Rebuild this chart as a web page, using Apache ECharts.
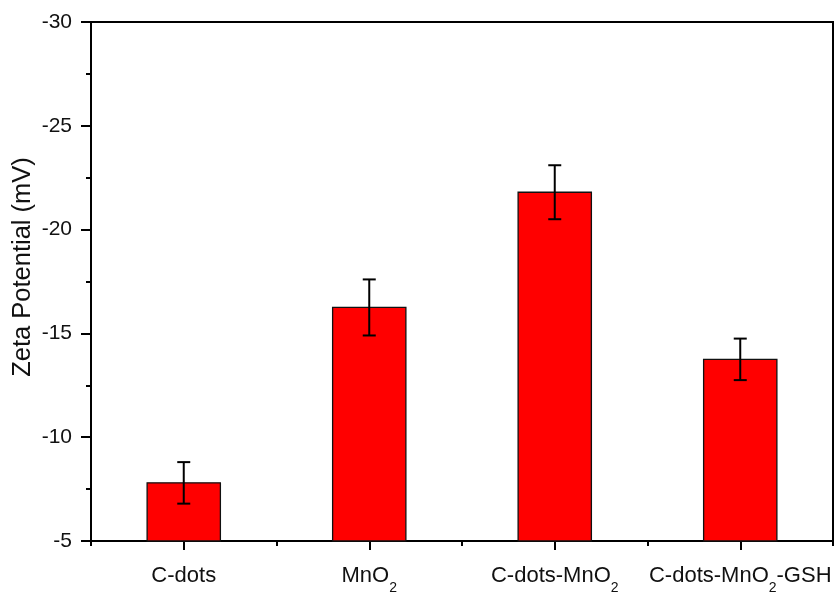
<!DOCTYPE html>
<html>
<head>
<meta charset="utf-8">
<script src="https://cdn.jsdelivr.net/npm/echarts@6/dist/echarts.min.js"></script>
<style>
  html, body { margin: 0; padding: 0; background: #fff; }
  #chart { width: 837px; height: 597px; }
</style>
</head>
<body>
<div id="chart"></div>
<script>
// Zeta potential of each sample (mV) with standard deviation
const categories = ['C-dots', 'MnO2', 'C-dots-MnO2', 'C-dots-MnO2-GSH'];
const zeta = [-7.8, -16.25, -21.8, -13.75];
const zetaErr = [1.0, 1.35, 1.3, 1.0];
const yTicks = [-30, -25, -20, -15, -10, -5];
const yTitle = 'Zeta Potential (mV)';

const FONT = '"Liberation Sans", Arial, sans-serif';
const AXIS_BASE = yTicks[yTicks.length - 1];
const LABEL_SIZE = 22;

const chart = echarts.init(document.getElementById('chart'));

// Category labels with subscript "2" in MnO2
function formatCategory(name) {
  return name.replace(/O2/g, 'O{sub|2}');
}

const barData = categories.map((c, i) => [i, zeta[i]]);
const errData = categories.map((c, i) => [i, zeta[i] - zetaErr[i], zeta[i] + zetaErr[i]]);

chart.setOption({
  animation: false,
  backgroundColor: '#fff',
  grid: {
    left: 91, right: 4, top: 22, bottom: 56,
    containLabel: false,
    outerBoundsMode: 'none',
    show: true, borderColor: '#000', borderWidth: 2,
    backgroundColor: 'transparent'
  },
  graphic: [
    {
      type: 'text',
      x: 23,
      y: 267,
      rotation: Math.PI / 2,
      style: {
        text: yTitle,
        fill: '#111',
        font: '25.5px ' + FONT,
        align: 'center',
        verticalAlign: 'middle'
      }
    }
  ],
  xAxis: [
    {
      type: 'category',
      position: 'bottom',
      data: categories,
      axisLine: { show: true, lineStyle: { color: '#000', width: 2 } },
      axisTick: { show: true, alignWithLabel: true, length: 9, lineStyle: { color: '#000', width: 2 } },
      axisLabel: {
        interval: 0,
        margin: 24,
        color: '#111',
        fontFamily: FONT,
        fontSize: LABEL_SIZE,
        lineHeight: LABEL_SIZE,
        formatter: formatCategory,
        rich: {
          sub: {
            fontSize: 14, fontFamily: FONT, color: '#111',
            lineHeight: LABEL_SIZE, padding: [24, 0, 0, 0]
          }
        }
      },
      splitLine: { show: false }
    },
    {
      // boundary ticks between categories
      type: 'category',
      position: 'bottom',
      data: categories,
      axisLine: { show: false },
      axisTick: { show: true, alignWithLabel: false, length: 5, lineStyle: { color: '#000', width: 2 } },
      axisLabel: { show: false },
      splitLine: { show: false }
    }
  ],
  yAxis: {
    type: 'value',
    inverse: true,
    min: yTicks[0],
    max: AXIS_BASE,
    interval: 5,
    axisLine: { show: true, lineStyle: { color: '#000', width: 2 } },
    axisTick: { show: true, length: 10, lineStyle: { color: '#000', width: 2 } },
    minorTick: { show: true, splitNumber: 2, length: 5, lineStyle: { color: '#000', width: 2 } },
    axisLabel: { margin: 19, color: '#111', fontFamily: FONT, fontSize: 21 },
    splitLine: { show: false }
  },
  series: [
    {
      type: 'custom',
      name: 'bars',
      xAxisIndex: 0,
      data: barData,
      encode: { x: 0, y: 1 },
      renderItem: function (params, api) {
        const idx = api.value(0);
        const top = api.coord([idx, api.value(1)]);
        const base = api.coord([idx, AXIS_BASE]);
        const w = api.size([1, 0])[0] * 0.395;
        return {
          type: 'rect',
          shape: { x: top[0] - w / 2, y: top[1], width: w, height: base[1] - top[1] },
          style: { fill: '#ff0000', stroke: '#111', lineWidth: 1.3 }
        };
      }
    },
    {
      type: 'custom',
      name: 'errors',
      xAxisIndex: 0,
      data: errData,
      encode: { x: 0, y: [1, 2] },
      z: 5,
      renderItem: function (params, api) {
        const idx = api.value(0);
        const lo = api.coord([idx, api.value(1)]);
        const hi = api.coord([idx, api.value(2)]);
        const cap = 6.5;
        const style = { stroke: '#000', lineWidth: 2 };
        return {
          type: 'group',
          children: [
            { type: 'line', shape: { x1: lo[0], y1: lo[1], x2: hi[0], y2: hi[1] }, style: style },
            { type: 'line', shape: { x1: lo[0] - cap, y1: lo[1], x2: lo[0] + cap, y2: lo[1] }, style: style },
            { type: 'line', shape: { x1: hi[0] - cap, y1: hi[1], x2: hi[0] + cap, y2: hi[1] }, style: style }
          ]
        };
      }
    }
  ]
});
</script>
</body>
</html>
